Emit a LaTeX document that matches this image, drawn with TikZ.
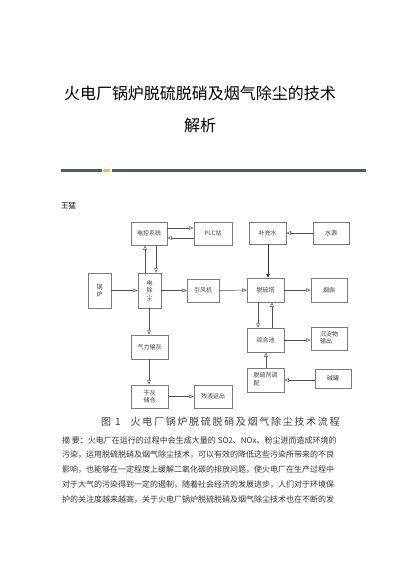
\documentclass[tikz,border=0pt]{standalone}
\usepackage{fontspec}
\newfontfamily\cjk{Noto Sans CJK SC}
\newfontfamily\cjkspaced[LetterSpace=17]{Noto Sans CJK SC}
\usetikzlibrary{positioning}
\usetikzlibrary{arrows.meta}
\definecolor{boxgray}{HTML}{7A7A7A}
\definecolor{linegray}{HTML}{505050}
\definecolor{barblue}{HTML}{4B5E6C}
\definecolor{baryellow}{HTML}{E6C44C}
\tikzset{
	unit/.style = {draw = boxgray, line width = 0.5pt, inner sep = 0pt, font = \cjk\fontsize{6}{7.5}\selectfont, text = black!75},
	flow/.style = {draw = linegray, line width = 0.5pt, -{Triangle[open, length = 4.5pt, width = 3.5pt]}},
	feed/.style = {draw = black!80, line width = 0.9pt, -{Triangle[length = 4pt, width = 3.5pt]}},
	bodyline/.style = {anchor = west, inner sep = 0pt, font = \cjk\fontsize{8}{9}\selectfont, text = black!80}
}
\newcommand{\unitbox}[5]{\node[unit, minimum width = #3pt, minimum height = #4pt, align = center] (#1) at (#2) {#5};}

\begin{document}
\begin{tikzpicture}[x = 1pt, y = -1pt]

					\useasboundingbox[fill = white] (0,0) rectangle (400,566);

					\node[font = \cjk\fontsize{16}{18}\selectfont, inner sep = 0pt] (title) at (200,93) {火电厂锅炉脱硫脱硝及烟气除尘的技术};
					\node[font = \cjk\fontsize{16}{18}\selectfont, inner sep = 0pt] (title2) at (200,125) {解析};

					\draw[barblue, line width = 3pt] (61,170) -- (102,170);
					\fill[baryellow] (103,168.5) rectangle (109.5,171.5);
					\draw[barblue, line width = 3pt] (112,170) -- (366,170);

					\node[anchor = west, inner sep = 0pt, font = \cjk\fontsize{7.5}{9}\selectfont] (author) at (61,206) {王猛};

					\unitbox{ctrl}{149,233.5}{36}{23}{电控系统}
					\unitbox{plc}{213,233.5}{38}{23}{PLC站}
					\unitbox{boiler}{99.5,290.5}{23}{35}{锅\\炉}
					\unitbox{esp}{149.5,290.5}{23}{35}{电\\除\\尘}
					\unitbox{fan}{203,290.5}{32}{23}{引风机}
					\unitbox{ash}{149.5,347}{37}{24}{气力输灰}
					\unitbox{silo}{149.5,396.5}{37}{23}{干灰\\储仓}
					\unitbox{slag}{213,396.5}{38}{23}{残渣运出}

					\unitbox{water}{267.5,233}{37}{22}{补充水}
					\unitbox{source}{331,233}{36}{22}{水源}
					\unitbox{tower}{265.5,290}{37}{24}{脱硫塔}
					\unitbox{chimney}{329,290}{36}{24}{烟囱}
					\unitbox{pool}{265.5,340}{37}{24}{综合池}
					\unitbox{sludge}{329,338.5}{36}{23}{\begin{tabular}{@{}l@{}}沉淀物\\输出\end{tabular}}
					\unitbox{agent}{265.5,380}{37}{24}{\begin{tabular}{@{}l@{}}脱硫剂调\\配\end{tabular}}
					\unitbox{alkali}{333,378.5}{36}{19}{碱罐}

					\draw[flow] (ctrl.east |- 0,228) -- (plc.west |- 0,228);
					\draw[flow] (plc.west |- 0,238) -- (ctrl.east |- 0,238);
					\draw[flow] (esp.north -| 145,0) -- (ctrl.south -| 145,0);
					\draw[flow] (ctrl.south -| 156,0) -- (esp.north -| 156,0);
					\draw[flow] (boiler) -- (esp);
					\draw[flow] (esp) -- (fan);
					\draw[flow] (fan) -- (tower);
					\draw[flow] (esp.south -| 149,0) -- (ash.north -| 149,0);
					\draw[flow] (ash.south -| 149,0) -- (silo.north -| 149,0);
					\draw[flow] (silo) -- (slag);

					\draw[flow] (source) -- (water);
					\draw[feed] (water.south -| 268,0) -- (tower.north -| 268,0);
					\draw[flow] (tower) -- (chimney);
					\draw[flow] (tower.south -| 258,0) -- (pool.north -| 258,0);
					\draw[flow] (pool.north -| 272,0) -- (tower.south -| 272,0);
					\draw[flow] (pool.east |- 0,340) -- (sludge.west |- 0,340);
					\draw[flow] (agent.north -| 266,0) -- (pool.south -| 266,0);
					\draw[flow] (alkali.west |- 0,380) -- (agent.east |- 0,380);

					\node[anchor = west, inner sep = 0pt, font = \cjkspaced\fontsize{10}{12}\selectfont, text = black!75] (caption) at (101,422) {图 1\quad 火电厂锅炉脱硫脱硝及烟气除尘技术流程};

					\node[bodyline] (line1) at (62,440) {摘\ 要：火电厂在运行的过程中会生成大量的 SO2、NOx、粉尘进而造成环境的};
					\node[bodyline] (line2) at (62,455) {污染，运用脱硫脱硝及烟气除尘技术，可以有效的降低这些污染所带来的不良};
					\node[bodyline] (line3) at (62,470) {影响，也能够在一定程度上缓解二氧化碳的排放问题，使火电厂在生产过程中};
					\node[bodyline] (line4) at (62,485) {对于大气的污染得到一定的遏制，随着社会经济的发展进步，人们对于环境保};
					\node[bodyline] (line5) at (62,500) {护的关注度越来越高，关于火电厂锅炉脱硫脱硝及烟气除尘技术也在不断的发};

\end{tikzpicture}
\end{document}
